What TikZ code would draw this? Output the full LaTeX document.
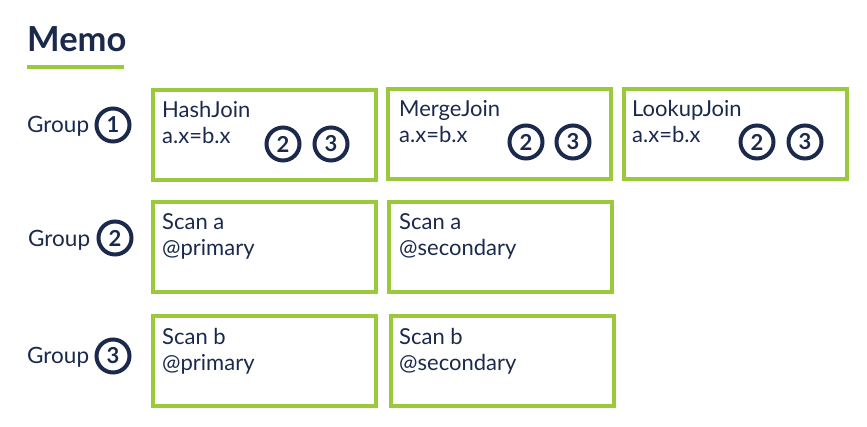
\documentclass[tikz,border=0pt]{standalone}
\usepackage{fontspec}
\setmainfont{Lato}
\definecolor{memogreen}{RGB}{154,202,60}
\definecolor{memonavy}{RGB}{27,42,76}
\begin{document}
\begin{tikzpicture}[x=1pt,y=-1pt,
        membox/.style={draw=memogreen,line width=4pt,minimum width=223pt,minimum height=90pt,anchor=north west,inner sep=0pt},
        boxtext/.style={anchor=north west,align=left,inner sep=0pt,text=memonavy,font=\fontsize{22}{26}\selectfont},
        gnum/.style={circle,draw=memonavy,line width=4pt,minimum size=33pt,inner sep=0pt,text=memonavy,font=\fontsize{22}{22}\bfseries\selectfont},
        glabel/.style={anchor=base west,inner sep=0pt,text=memonavy,font=\fontsize{22.5}{24}\selectfont}]
        \useasboundingbox (0,0) rectangle (867,427);

        \node[anchor=base west,inner sep=0pt,text=memonavy,font=\fontsize{34.5}{34}\bfseries\selectfont] (memo) at (27,52) {Memo};
        \coordinate (ula) at (27,67);
        \coordinate (ulb) at (124,67);
        \draw[memogreen,line width=4pt] (ula) -- (ulb);

        % group 1
        \node[glabel] (g1) at (27,133) {Group};
        \node[gnum] (g1n) at (113,125) {1};
        \node[membox] (hash) at (151,88) {};
        \node[boxtext] (hasht) at (162,101) {HashJoin\\a.x=b.x};
        \node[gnum] (hash2) at (283,144) {2};
        \node[gnum] (hash3) at (331,144) {3};
        \node[membox] (merge) at (386,87) {};
        \node[boxtext] (merget) at (399,100) {MergeJoin\\a.x=b.x};
        \node[gnum] (merge2) at (526,142) {2};
        \node[gnum] (merge3) at (573,142) {3};
        \node[membox] (lookup) at (622,87) {};
        \node[boxtext] (lookupt) at (632,100) {LookupJoin\\a.x=b.x};
        \node[gnum] (lookup2) at (757,142) {2};
        \node[gnum] (lookup3) at (805,142) {3};

        % group 2
        \node[glabel] (g2) at (28,247) {Group};
        \node[gnum] (g2n) at (115,238) {2};
        \node[membox] (scanap) at (151,200) {};
        \node[boxtext] (scanapt) at (162,213) {Scan a\\@primary};
        \node[membox] (scanas) at (387,200) {};
        \node[boxtext] (scanast) at (399,213) {Scan a\\@secondary};

        % group 3
        \node[glabel] (g3) at (27,363) {Group};
        \node[gnum] (g3n) at (113,356) {3};
        \node[membox] (scanbp) at (151,314) {};
        \node[boxtext] (scanbpt) at (162,328) {Scan b\\@primary};
        \node[membox] (scanbs) at (389,314) {};
        \node[boxtext] (scanbst) at (399,328) {Scan b\\@secondary};
    \end{tikzpicture}
\end{document}
